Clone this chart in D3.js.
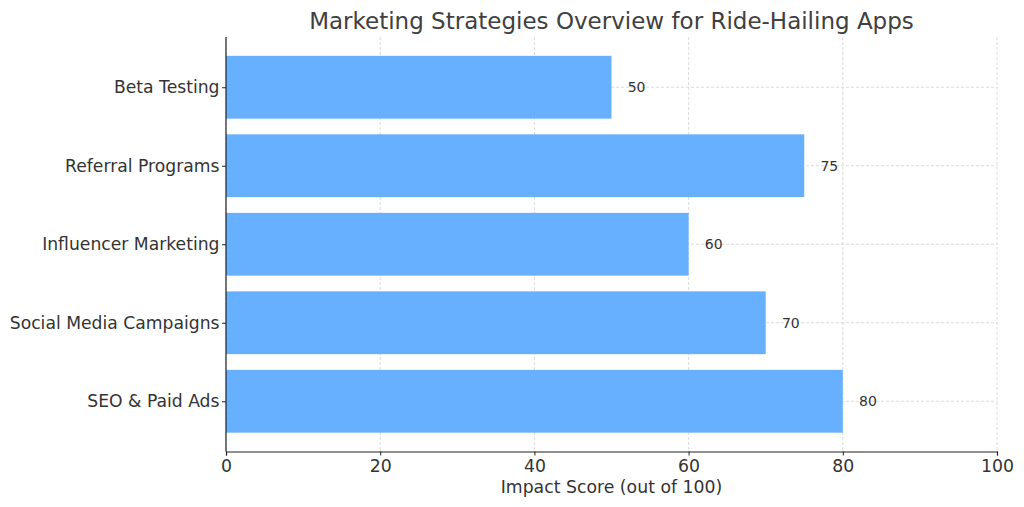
<!DOCTYPE html>
<html><head><meta charset="utf-8">
<script src="https://cdn.jsdelivr.net/npm/d3@7"></script>
<style>body{margin:0;background:#fff}svg{display:block}text{font-family:"DejaVu Sans",sans-serif}</style>
</head><body><svg id="c" width="1024" height="507"></svg>
<script>
const categories = ["SEO & Paid Ads","Social Media Campaigns","Influencer Marketing","Referral Programs","Beta Testing"];
const values = [80,70,60,75,50];
const xTicks = [0,20,40,60,80,100];
const title = "Marketing Strategies Overview for Ride-Hailing Apps";
const xLabel = "Impact Score (out of 100)";

const svg = d3.select("#c");
const L=226, R=997, T=37, B=451.5;
const x = d3.scaleLinear().domain([0,100]).range([L,R]);
const y = d3.scaleLinear().domain([-0.64,4.64]).range([B,T]);
const bh = y(0)-y(0.8);
const txt="#333";

const g = svg.append("g");
g.selectAll(".vg").data(xTicks).join("line")
 .attr("x1",d=>x(d)).attr("x2",d=>x(d)).attr("y1",T).attr("y2",B)
 .attr("stroke","#d0d0d0").attr("stroke-width",0.8).attr("stroke-dasharray","3,2");
g.selectAll(".hg").data(categories).join("line")
 .attr("x1",L).attr("x2",R).attr("y1",(d,i)=>y(i)).attr("y2",(d,i)=>y(i))
 .attr("stroke","#d0d0d0").attr("stroke-width",0.8).attr("stroke-dasharray","3,2");

svg.selectAll(".bar").data(values).join("rect")
 .attr("x",x(0)).attr("y",(d,i)=>y(i)-bh/2).attr("width",d=>x(d)-x(0)).attr("height",bh)
 .attr("fill","#66b0ff");

svg.selectAll(".vl").data(values).join("text")
 .attr("x",d=>x(d+2.1)).attr("y",(d,i)=>y(i)).attr("dy","0.35em")
 .attr("font-size",14).attr("fill",txt).text(d=>d);

const xa = svg.append("g").attr("transform",`translate(0,${B})`)
 .call(d3.axisBottom(x).tickValues(xTicks).tickSize(4).tickPadding(4));
xa.select(".domain").attr("stroke","#222").attr("stroke-width",1.2);
xa.selectAll(".tick line").attr("stroke","#222");
xa.selectAll("text").attr("font-size",17.3).attr("fill",txt).attr("font-family","DejaVu Sans");

const ya = svg.append("g").attr("transform",`translate(${L},0)`)
 .call(d3.axisLeft(y).tickValues(d3.range(categories.length)).tickFormat(i=>categories[i]).tickSize(4).tickPadding(2.5));
ya.select(".domain").attr("d",`M0,${T}V${B}`).attr("stroke","#222").attr("stroke-width",1.2);
ya.selectAll(".tick line").attr("stroke","#222");
ya.selectAll("text").attr("font-size",17.2).attr("fill",txt).attr("font-family","DejaVu Sans");

svg.append("text").attr("x",(L+R)/2).attr("y",29).attr("text-anchor","middle")
 .attr("font-size",23).attr("fill","#404040").text(title);
svg.append("text").attr("x",(L+R)/2).attr("y",493).attr("text-anchor","middle")
 .attr("font-size",17.3).attr("fill",txt).text(xLabel);
</script></body></html>
